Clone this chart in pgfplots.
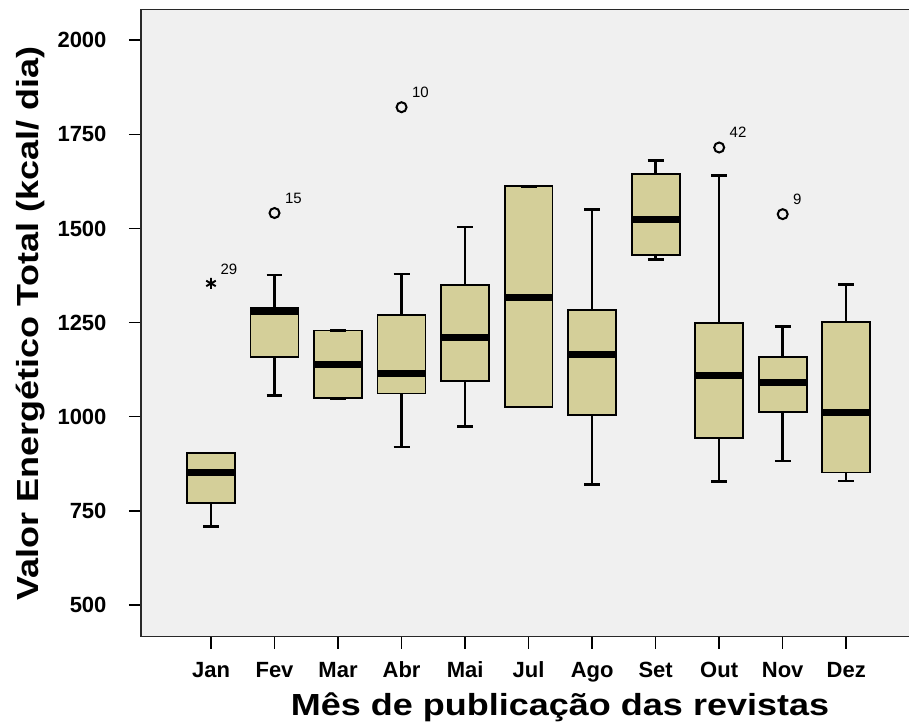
\documentclass[border=0pt]{standalone}
\usepackage{pgfplots}
\pgfplotsset{compat=1.18}
\usepackage{fontspec}
\setmainfont{Liberation Sans}
\newfontfamily\titlefont[FakeStretch=1.18]{Liberation Sans}
\definecolor{boxfill}{RGB}{212,207,153}
\definecolor{bg}{RGB}{240,240,240}
\definecolor{framec}{RGB}{40,40,40}

\pgfplotsset{
  boxst/.style={draw=black, line width=1.8pt, fill=boxfill},
}

\begin{document}
\begin{tikzpicture}
\begin{axis}[
  scale only axis, width=770pt, height=627pt,
  xmin=-1.102, xmax=11.02, ymin=416.4, ymax=2081.5,
  axis background/.style={fill=bg},
  axis line style={draw=framec, line width=1.6pt},
  xtick={0,1,2,3,4,5,6,7,8,9,10},
  xticklabels={Jan,Fev,Mar,Abr,Mai,Jul,Ago,Set,Out,Nov,Dez},
  ytick={500,750,1000,1250,1500,1750,2000},
  xtick pos=left, ytick pos=left,
  tick align=outside, major tick length=12pt,
  tick style={black, line width=1.5pt},
  /pgf/number format/assume math mode=true,
  /pgf/number format/1000 sep={},
  ticklabel style={font=\bfseries\fontsize{22}{26}\selectfont},
  xticklabel style={anchor=base, yshift=-29pt},
  yticklabel style={anchor=east, xshift=-19pt},
  xlabel={Mês de publicação das revistas},
  ylabel={Valor Energético Total (kcal/ dia)},
  xlabel style={font=\titlefont\bfseries\fontsize{30.5}{34}\selectfont,
    at={(rel axis cs:0.5442,-0.1252)}, anchor=base},
  ylabel style={font=\titlefont\bfseries\fontsize{30.5}{34}\selectfont,
    at={(rel axis cs:-0.1331,0.4992)}, anchor=base},
  clip=false,
  unbounded coords=jump,
]
% boxes (lower quartile to upper quartile)
\addplot[boxst] coordinates {(-0.3775,770) (0.3775,770) (0.3775,904) (-0.3775,904)} -- cycle;
\addplot[boxst] coordinates {(0.6225,1159) (1.3775,1159) (1.3775,1288) (0.6225,1288)} -- cycle;
\addplot[boxst] coordinates {(1.6225,1049) (2.3775,1049) (2.3775,1229) (1.6225,1229)} -- cycle;
\addplot[boxst] coordinates {(2.6225,1062) (3.3775,1062) (3.3775,1271) (2.6225,1271)} -- cycle;
\addplot[boxst] coordinates {(3.6225,1094) (4.3775,1094) (4.3775,1350) (3.6225,1350)} -- cycle;
\addplot[boxst] coordinates {(4.6225,1026) (5.3775,1026) (5.3775,1612) (4.6225,1612)} -- cycle;
\addplot[boxst] coordinates {(5.6225,1004) (6.3775,1004) (6.3775,1284) (5.6225,1284)} -- cycle;
\addplot[boxst] coordinates {(6.6225,1430) (7.3775,1430) (7.3775,1644) (6.6225,1644)} -- cycle;
\addplot[boxst] coordinates {(7.6225,943) (8.3775,943) (8.3775,1250) (7.6225,1250)} -- cycle;
\addplot[boxst] coordinates {(8.6225,1012) (9.3775,1012) (9.3775,1158) (8.6225,1158)} -- cycle;
\addplot[boxst] coordinates {(9.6225,852) (10.3775,852) (10.3775,1251) (9.6225,1251)} -- cycle;
% whiskers
\addplot[black, line width=2.4pt] coordinates {
 (0,708) (0,770) (0,nan)
 (1,1056) (1,1159) (1,nan) (1,1288) (1,1376) (1,nan)
 (3,920) (3,1062) (3,nan) (3,1271) (3,1379) (3,nan)
 (4,974) (4,1094) (4,nan) (4,1350) (4,1504) (4,nan)
 (6,820) (6,1004) (6,nan) (6,1284) (6,1551) (6,nan)
 (7,1417) (7,1430) (7,nan) (7,1644) (7,1681) (7,nan)
 (8,828) (8,943) (8,nan) (8,1250) (8,1641) (8,nan)
 (9,882) (9,1012) (9,nan) (9,1158) (9,1239) (9,nan)
 (10,829) (10,852) (10,nan) (10,1251) (10,1351)
};
% whisker caps
\addplot[black, line width=2.6pt] coordinates {
 (-0.125,708) (0.125,708) (0,nan) (-0.125,904) (0.125,904) (0,nan)
 (0.875,1056) (1.125,1056) (1,nan) (0.875,1376) (1.125,1376) (1,nan)
 (1.875,1049) (2.125,1049) (2,nan) (1.875,1229) (2.125,1229) (2,nan)
 (2.875,920) (3.125,920) (3,nan) (2.875,1379) (3.125,1379) (3,nan)
 (3.875,974) (4.125,974) (4,nan) (3.875,1504) (4.125,1504) (4,nan)
 (4.875,1026) (5.125,1026) (5,nan) (4.875,1612) (5.125,1612) (5,nan)
 (5.875,820) (6.125,820) (6,nan) (5.875,1551) (6.125,1551) (6,nan)
 (6.875,1417) (7.125,1417) (7,nan) (6.875,1681) (7.125,1681) (7,nan)
 (7.875,828) (8.125,828) (8,nan) (7.875,1641) (8.125,1641) (8,nan)
 (8.875,882) (9.125,882) (9,nan) (8.875,1239) (9.125,1239) (9,nan)
 (9.875,829) (10.125,829) (10,nan) (9.875,1351) (10.125,1351)
};
% medians
\addplot[black, line width=7pt] coordinates {
 (-0.3775,852) (0.3775,852) (0,nan)
 (0.6225,1280) (1.3775,1280) (1,nan)
 (1.6225,1139) (2.3775,1139) (2,nan)
 (2.6225,1114) (3.3775,1114) (3,nan)
 (3.6225,1210) (4.3775,1210) (4,nan)
 (4.6225,1318) (5.3775,1318) (5,nan)
 (5.6225,1164) (6.3775,1164) (6,nan)
 (6.6225,1525) (7.3775,1525) (7,nan)
 (7.6225,1109) (8.3775,1109) (8,nan)
 (8.6225,1092) (9.3775,1092) (9,nan)
 (9.6225,1012) (10.3775,1012)
};
% outliers
\addplot[only marks, mark=o, mark size=5pt, mark options={draw=black, line width=2pt}]
  coordinates {(1,1541) (3,1822) (8,1715) (9,1538)};
% extreme value
\addplot[only marks, mark=asterisk, mark size=5.5pt, mark options={draw=black, line width=1.9pt}]
  coordinates {(0,1354)};
% case labels
\node[anchor=base west, font=\fontsize{15}{17}\selectfont, xshift=6pt, yshift=9pt] at (axis cs:0,1354) {29};
\node[anchor=base west, font=\fontsize{15}{17}\selectfont, xshift=7pt, yshift=10pt] at (axis cs:1,1541) {15};
\node[anchor=base west, font=\fontsize{15}{17}\selectfont, xshift=7pt, yshift=10pt] at (axis cs:3,1822) {10};
\node[anchor=base west, font=\fontsize{15}{17}\selectfont, xshift=7pt, yshift=10pt] at (axis cs:8,1715) {42};
\node[anchor=base west, font=\fontsize{15}{17}\selectfont, xshift=7pt, yshift=10pt] at (axis cs:9,1538) {9};
\end{axis}
\pgfresetboundingbox
\useasboundingbox (-141pt,-87.5pt) rectangle (768pt,636.5pt);
\end{tikzpicture}
\end{document}
